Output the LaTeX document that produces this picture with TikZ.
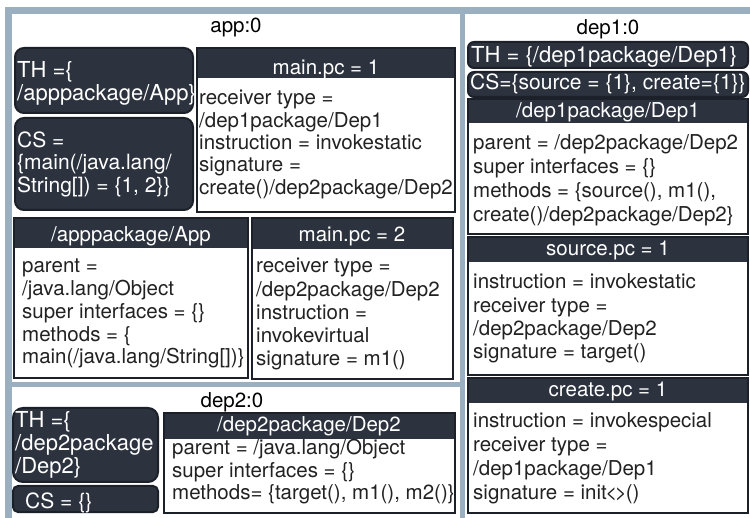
\documentclass[tikz,border=0pt]{standalone}
\usepackage{fontspec}
\setmainfont{TeX Gyre Heros}
\definecolor{framec}{HTML}{9AAFC0}
\definecolor{boxdark}{HTML}{2C333F}
\definecolor{boxedge}{HTML}{1C2029}
\definecolor{textc}{HTML}{222222}
\newcommand{\boxlines}[1]{\begin{tabular}[t]{@{}l@{}}#1\end{tabular}}
\tikzset{
  fs/.style 2 args={font=\fontsize{#1}{#2}\selectfont},
  title/.style={inner sep=0pt, anchor=base, text=black, fs={20.5}{23}},
  hdr/.style={inner sep=0pt, anchor=base, text=white, fs={20.5}{23}},
  wtxt/.style={inner sep=0pt, anchor=base west, text=white},
  btxt/.style={inner sep=0pt, anchor=base west, text=textc},
  rbox/.style={fill=boxdark, draw=boxedge, line width=2pt, rounded corners=9pt},
  hband/.style={fill=boxdark},
  cline/.style={draw=boxedge, line width=2pt}
}
\begin{document}
\begin{tikzpicture}[x=1pt,y=-1pt]
\useasboundingbox (0,0) rectangle (750,518);
% panels
\fill[framec] (5,7) rectangle (750,518);
\fill[white] (12,14) rectangle (460,382);
\fill[white] (465,14) rectangle (750,518);
\fill[white] (12,387) rectangle (460,518);
% titles
\node[title] (tapp) at (236,33) {app:0};
\node[title] (tdep1) at (608,35) {dep1:0};
\node[title] (tdep2) at (232,408) {dep2:0};
% ---------- app:0 ----------
\draw[rbox] (15,48) rectangle (193,113);
\node[wtxt, fs={22}{22}] (thapp) at (17,78) {\boxlines{TH =\{\\/apppackage/App\}}};
\draw[rbox] (15,118) rectangle (193,210);
\node[wtxt, fs={21}{22}] (csapp) at (17,148) {\boxlines{CS =\\\{main(/java.lang/\\String[]) = \{1, 2\}\}}};
% main.pc = 1
\fill[hband] (197,48) rectangle (455,78);
\draw[cline] (197,48) rectangle (455,212);
\node[hdr] (mpc1h) at (326,75) {main.pc = 1};
\node[btxt, fs={20.5}{22.3}] (mpc1b) at (199,105) {\boxlines{receiver type =\\/dep1package/Dep1\\instruction = invokestatic\\signature =\\create()/dep2package/Dep2}};
% /apppackage/App
\fill[hband] (14,218) rectangle (248,248);
\draw[cline] (14,218) rectangle (248,378);
\node[hdr] (apph) at (131,242) {/apppackage/App};
\node[btxt, fs={20.5}{22.75}] (appb) at (22,273) {\boxlines{parent =\\/java.lang/Object\\super interfaces = \{\}\\methods = \{\\main(/java.lang/String[])\}}};
% main.pc = 2
\fill[hband] (252,218) rectangle (453,249);
\draw[cline] (252,218) rectangle (453,379);
\node[hdr] (mpc2h) at (352,242) {main.pc = 2};
\node[btxt, fs={20.5}{23.25}] (mpc2b) at (256,273) {\boxlines{receiver type =\\/dep2package/Dep2\\instruction =\\invokevirtual\\signature = m1()}};
% ---------- dep1:0 ----------
\draw[rbox, rounded corners=6pt] (468,42) rectangle (748,68);
\node[wtxt, fs={22}{22}] (thdep1) at (471,63) {TH = \{/dep1package/Dep1\}};
\draw[rbox, rounded corners=6pt] (468,72) rectangle (748,97);
\node[wtxt, fs={21}{22}] (csdep1) at (470,90) {CS=\{source = \{1\}, create=\{1\}\}};
% /dep1package/Dep1
\fill[hband] (468,99) rectangle (748,123);
\draw[cline] (468,99) rectangle (748,234);
\node[hdr] (dep1h) at (608,118) {/dep1package/Dep1};
\node[btxt, fs={20.5}{23.7}] (dep1b) at (473,150) {\boxlines{parent = /dep2package/Dep2\\super interfaces = \{\}\\methods = \{source(), m1(),\\create()/dep2package/Dep2\}}};
% source.pc = 1
\fill[hband] (468,237) rectangle (748,262);
\draw[cline] (468,237) rectangle (748,375);
\node[hdr] (srch) at (608,256) {source.pc = 1};
\node[btxt, fs={20.5}{23.3}] (srcb) at (473,289) {\boxlines{instruction = invokestatic\\receiver type =\\/dep2package/Dep2\\signature = target()}};
% create.pc = 1
\fill[hband] (468,378) rectangle (748,403);
\draw[cline] (468,378) rectangle (748,513);
\node[hdr] (crth) at (608,397) {create.pc = 1};
\node[btxt, fs={20.5}{23.7}] (crtb) at (473,428) {\boxlines{instruction = invokespecial\\receiver type =\\/dep1package/Dep1\\signature = init\kern-1.5pt<\kern-2.5pt>\kern-1pt()}};
% ---------- dep2:0 ----------
\draw[rbox, rounded corners=10pt] (13,408) rectangle (158,482);
\node[wtxt, fs={22}{22.5}] (thdep2) at (15,428) {\boxlines{TH =\{\\/dep2package\\/Dep2\}}};
\draw[rbox, rounded corners=5pt] (13,486) rectangle (158,512);
\node[wtxt, fs={21}{22}] (csdep2) at (25,508) {CS = \{\}};
% /dep2package/Dep2
\fill[hband] (164,413) rectangle (455,439);
\draw[cline] (164,413) rectangle (455,513);
\node[hdr] (dep2h) at (309,432) {/dep2package/Dep2};
\node[btxt, fs={20.5}{22.5}] (dep2b) at (172,455) {\boxlines{parent = /java.lang/Object\\super interfaces = \{\}\\methods= \{target(), m1(), m2()\}}};
\end{tikzpicture}
\end{document}
